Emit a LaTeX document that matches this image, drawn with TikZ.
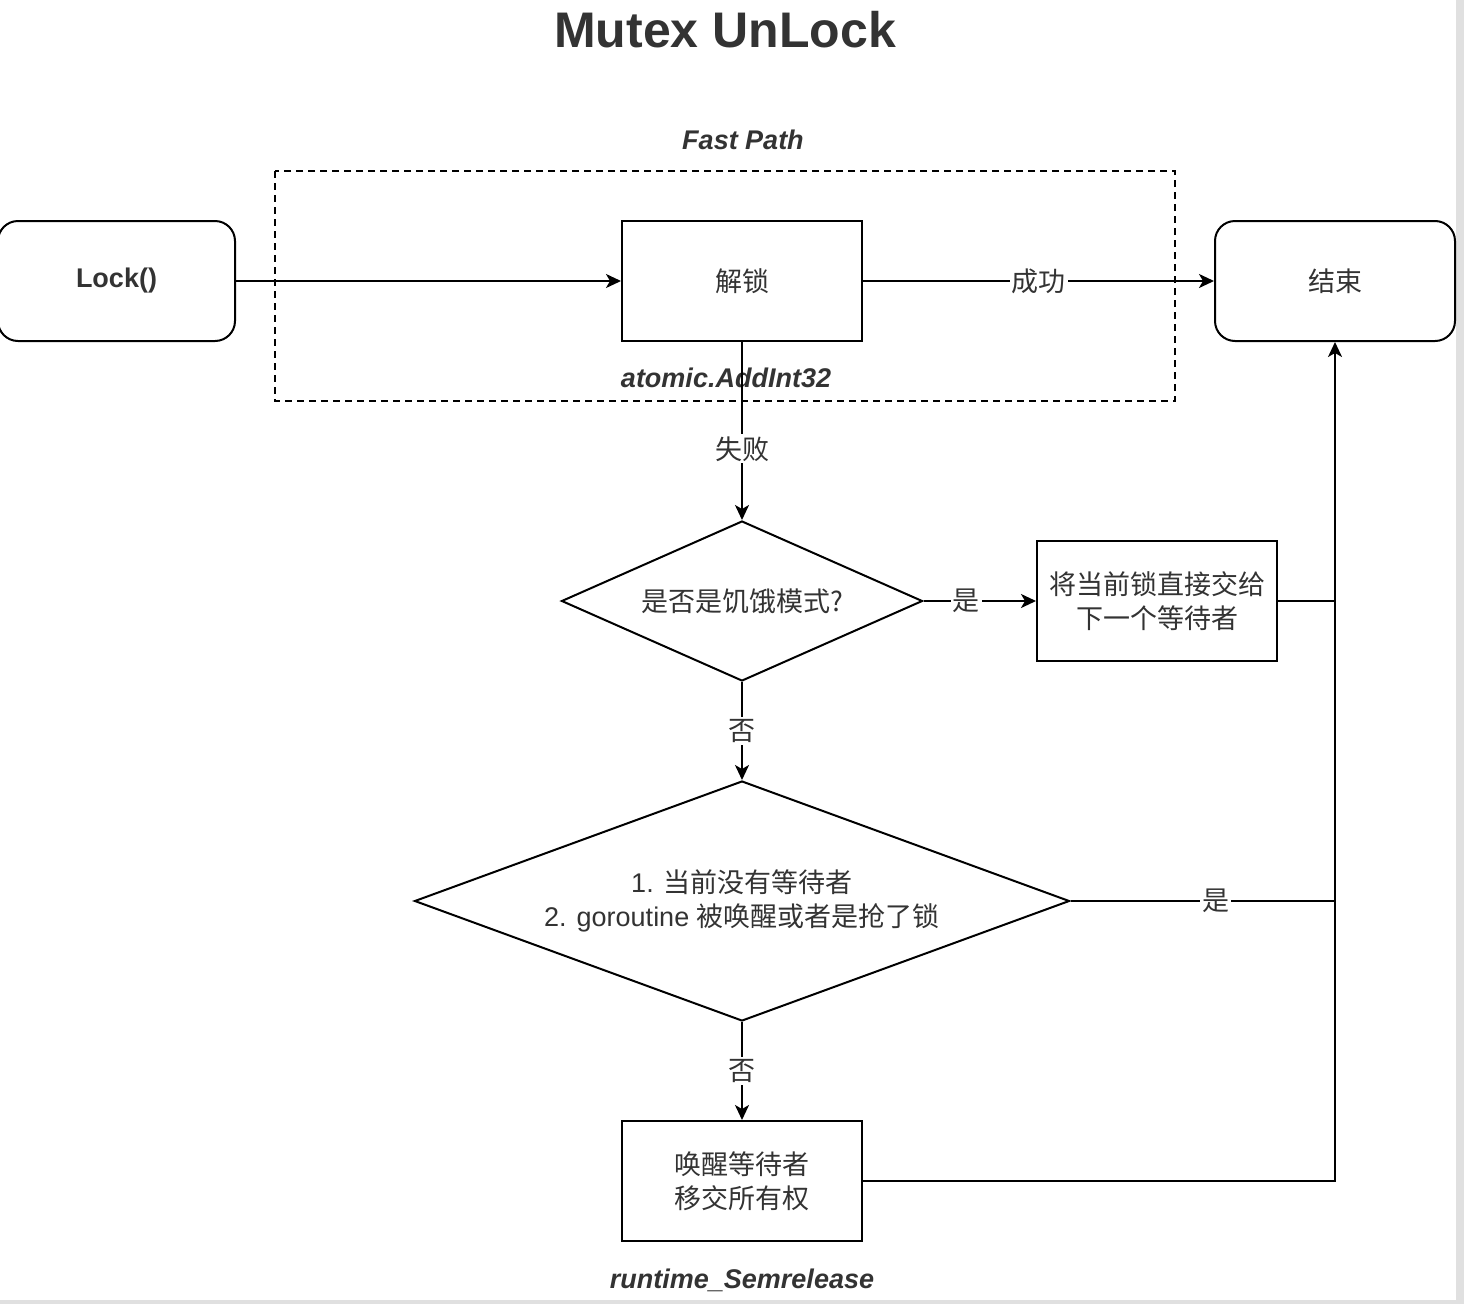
\documentclass[tikz,border=0pt]{standalone}
\usepackage{fontspec}
\setmainfont{Liberation Sans}
\newfontfamily\cjk{Noto Sans CJK SC}
\usetikzlibrary{arrows.meta,shapes.geometric}
\definecolor{txt}{HTML}{333333}
\tikzset{
  ln/.style={line width=2pt, draw=black},
  arr/.style={ln, -{Stealth[length=15pt,width=14pt,inset=4pt]}},
  body/.style={font=\fontsize{27pt}{34pt}\selectfont, text=txt},
  rbox/.style={ln, body, rounded corners=20pt, minimum width=240pt, minimum height=120pt, inner sep=0pt, fill=white},
  sbox/.style={ln, body, minimum width=240pt, minimum height=120pt, inner sep=0pt, align=center, fill=white},
  dia/.style={ln, body, diamond, inner sep=0pt, align=center, fill=white},
  elab/.style={body, fill=white, inner sep=2pt},
  note/.style={font=\fontsize{27pt}{32pt}\selectfont\bfseries\itshape, text=txt}
}
\begin{document}
\begin{tikzpicture}[x=1pt,y=-1pt]
\useasboundingbox (0,0) rectangle (1464,1304);
\fill[white] (0,0) rectangle (1464,1304);
\fill[black!12] (1456,0) rectangle (1464,1304);
\fill[black!12] (0,1300) rectangle (1464,1304);

\node[font=\fontsize{50pt}{56pt}\selectfont\bfseries, text=txt] (title) at (725,30) {Mutex UnLock};

\draw[line width=1.8pt, dash pattern=on 7pt off 5pt] (275,171) rectangle (1175,401);
\node[note] (fp) at (743,140) {Fast Path};

\node[rbox, minimum width=237pt, font=\fontsize{27pt}{34pt}\selectfont\bfseries] (lock) at (116.5,281) {Lock()};
\node[sbox] (unlock) at (742,281) {\cjk 解锁};
\node[rbox] (end) at (1335,281) {\cjk 结束};
\node[note] (atomic) at (726,378) {atomic.AddInt32};

\node[dia, aspect=2.256, minimum width=361pt, minimum height=160pt] (d1) at (742,601) {\cjk 是否是饥饿模式?};
\node[sbox] (hand) at (1157,601) {\cjk 将当前锁直接交给\\\cjk 下一个等待者};
\node[dia, aspect=2.729, minimum width=655pt, minimum height=240pt] (d2) at (742,901) {1. {\cjk 当前没有等待者}\\2. goroutine {\cjk 被唤醒或者是抢了锁}};
\node[sbox] (wake) at (742,1181) {\cjk 唤醒等待者\\\cjk 移交所有权};
\node[note] (sem) at (742,1280) {runtime\_Semrelease};

\draw[arr] (lock.east) -- (unlock.west);
\draw[arr] (unlock.east) -- node[elab] {\cjk 成功} (end.west);
\draw[arr] (unlock.south) -- node[elab, pos=0.6] {\cjk 失败} (d1.north);
\draw[arr] (d1.east) -- node[elab, pos=0.38] {\cjk 是} (hand.west);
\draw[arr] (d1.south) -- node[elab] {\cjk 否} (d2.north);
\draw[arr] (d2.south) -- node[elab] {\cjk 否} (wake.north);
\coordinate (j1) at (hand.east -| end.south);
\coordinate (j2) at (d2.east -| end.south);
\draw[ln] (hand.east) -- (j1);
\draw[ln] (d2.east) -- node[elab, pos=0.55] {\cjk 是} (j2);
\draw[arr] (wake.east) -| (end.south);
\end{tikzpicture}
\end{document}
